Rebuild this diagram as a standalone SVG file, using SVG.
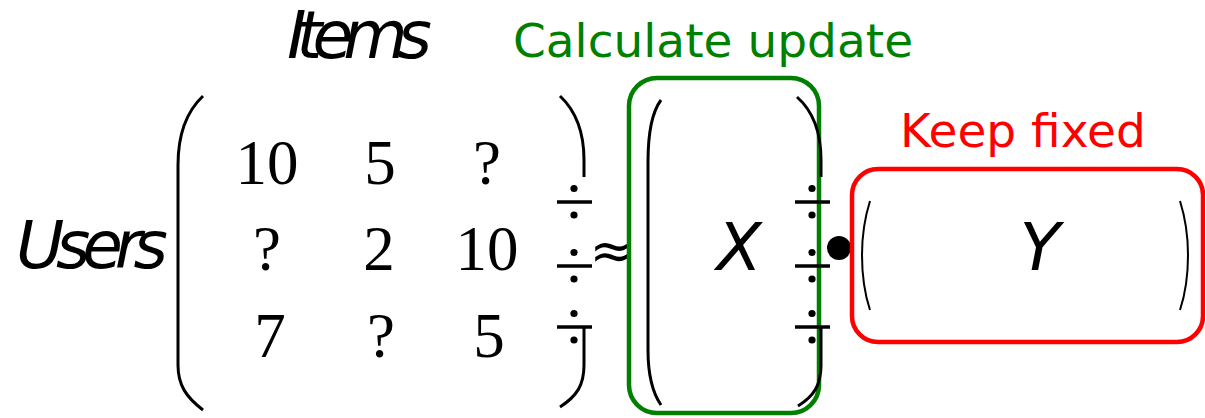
<svg xmlns="http://www.w3.org/2000/svg" width="1205" height="418" viewBox="0 0 1205 418">
<style>
.lbl{font-family:"DejaVu Sans",sans-serif;font-size:47px}
.ital{font-family:"DejaVu Sans",sans-serif;font-style:italic;font-size:66px;fill:#000}
.num{font-family:"Liberation Serif","Times New Roman",serif;font-size:63px;text-anchor:middle;fill:#000}
.br{fill:none;stroke:#000;stroke-width:3;stroke-linecap:butt}
.thin{fill:none;stroke:#000;stroke-width:2}
.bar{stroke:#000;stroke-width:3.5}
.dot{fill:#000}
</style>
<defs>
<g id="div">
<line class="bar" x1="-17" y1="0" x2="18" y2="0"/>
<circle class="dot" cx="0" cy="-13.5" r="3.6"/>
<circle class="dot" cx="0" cy="13" r="3.6"/>
</g>
</defs>

<g id="labels">
<text class="ital" x="287" y="58" textLength="145" lengthAdjust="spacing">Items</text>
<text class="ital" x="16" y="268" textLength="152" lengthAdjust="spacing">Users</text>
<text class="lbl" x="513" y="57" fill="#008000">Calculate update</text>
<text class="lbl" x="900" y="147" fill="#ff0000">Keep fixed</text>
</g>

<g id="ratings">
<path class="br" d="M203,96 C186,112 178,135 178,165 L178,365 C178,385 186,397 203,410"/>
<path class="br" d="M560,96 C577,112 584,135 584,160 L584,177"/>
<path class="br" d="M584,327 L584,365 C584,385 577,396 560,407"/>
<text class="num" x="267" y="184">10</text>
<text class="num" x="380" y="184">5</text>
<text class="num" x="487" y="184">?</text>
<text class="num" x="267" y="270">?</text>
<text class="num" x="379" y="270">2</text>
<text class="num" x="487" y="270">10</text>
<text class="num" x="270" y="357">7</text>
<text class="num" x="381" y="357">?</text>
<text class="num" x="489" y="357">5</text>
<use href="#div" x="574" y="202"/>
<use href="#div" x="574" y="266"/>
<use href="#div" x="574" y="327"/>
</g>

<g id="approx">
<text x="612" y="269" font-family="DejaVu Sans,sans-serif" font-size="54" text-anchor="middle">≈</text>
</g>

<g id="X">
<rect x="629" y="78" width="190" height="335" rx="28" fill="none" stroke="#008000" stroke-width="4.5"/>
<path class="br" d="M661,100 C652,112 648,135 648,162 L648,350 C648,375 652,392 661,405"/>
<path class="br" d="M797,97 C814,112 821,135 821,160 L821,177"/>
<path class="br" d="M821,327 L821,365 C821,385 814,396 798,406"/>
<text class="ital" x="739" y="270" text-anchor="middle">X</text>
<use href="#div" x="812" y="202"/>
<use href="#div" x="812" y="266"/>
<use href="#div" x="812" y="327"/>
</g>

<g id="mult">
<circle cx="839" cy="248" r="12" fill="#000"/>
</g>

<g id="Y">
<rect x="852" y="169" width="351" height="173" rx="26" fill="none" stroke="#ff0000" stroke-width="4.5"/>
<path class="thin" d="M870,201 C864,220 862,240 862,255 C862,272 864,292 870,310"/>
<path class="thin" d="M1180,201 C1186,220 1188,240 1188,255 C1188,272 1186,292 1180,310"/>
<text class="ital" x="1040" y="270" text-anchor="middle">Y</text>
</g>
</svg>
